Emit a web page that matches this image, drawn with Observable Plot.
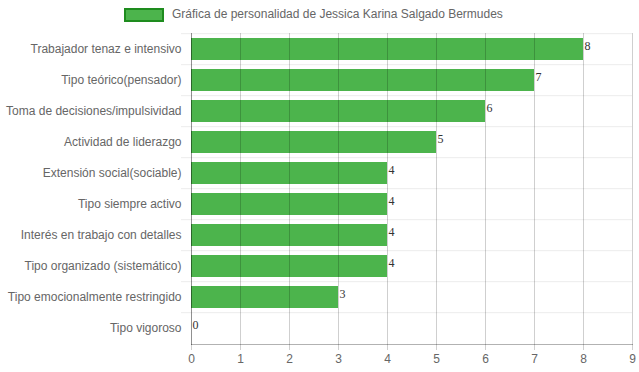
<!DOCTYPE html>
<html><head><meta charset="utf-8">
<script src="https://cdn.jsdelivr.net/npm/d3@7"></script>
<script src="https://cdn.jsdelivr.net/npm/@observablehq/plot@0.6"></script>
<style>
body{margin:0;background:#fff;font-family:"Liberation Sans",Arial,sans-serif}
#legend{height:30px;position:relative;width:639px}
#legend .box{position:absolute;left:124px;top:8px;width:36px;height:10px;background:#4cb44c;border:2px solid #1e8c1e}
#legend .lbl{position:absolute;left:172px;top:7px;font-size:12px;color:#666;line-height:14px;white-space:nowrap}
</style></head>
<body>
<div id="legend"><div class="box"></div><div class="lbl"></div></div>
<div id="chart"></div>
<script>
const seriesName = "Gráfica de personalidad de Jessica Karina Salgado Bermudes";
const categories = [
  "Trabajador tenaz e intensivo",
  "Tipo teórico(pensador)",
  "Toma de decisiones/impulsividad",
  "Actividad de liderazgo",
  "Extensión social(sociable)",
  "Tipo siempre activo",
  "Interés en trabajo con detalles",
  "Tipo organizado (sistemático)",
  "Tipo emocionalmente restringido",
  "Tipo vigoroso"
];
const values = [8, 7, 6, 5, 4, 4, 4, 4, 3, 0];
const xTicks = [0, 1, 2, 3, 4, 5, 6, 7, 8, 9];

document.querySelector("#legend .lbl").textContent = seriesName;

const data = categories.map((c, i) => ({cat: c, value: values[i]}));
const PI = 0.28, PO = 0.14;

function hGrid(index, scales, vals, dims) {
  const y = scales.y;
  const step = y.step();
  const bw = y.bandwidth();
  const g = d3.create("svg:g");
  const ys = categories.map(c => y(c) - step * PI / 2);
  for (const yy of ys) {
    g.append("line")
      .attr("x1", dims.marginLeft - 10).attr("x2", dims.width - dims.marginRight)
      .attr("y1", yy).attr("y2", yy)
      .attr("stroke", "rgba(0,0,0,0.08)");
  }
  return g.node();
}

const chart = Plot.plot({
  width: 639,
  height: 342,
  marginTop: 3,
  marginBottom: 28,
  marginLeft: 191,
  marginRight: 7,
  style: {fontFamily: '"Liberation Sans", Arial, sans-serif', fontSize: "12px", background: "#fff"},
  x: {domain: [0, 9], ticks: xTicks, label: null},
  y: {domain: categories, paddingInner: PI, paddingOuter: PO, label: null},
  marks: [
    Plot.barX(data, {x: "value", y: "cat", fill: "#4cb44c"}),
    Plot.gridX(xTicks, {stroke: "#000", strokeOpacity: 0.19}),
    hGrid,
    Plot.axisX({ticks: xTicks, tickSize: 6, tickPadding: 4, stroke: "#000", strokeOpacity: 0.19, color: "#666", fontSize: 12}),
    Plot.axisY({tickSize: 0, tickPadding: 10, color: "#666", fontSize: 12}),
    Plot.frame({anchor: "bottom", stroke: "#000", strokeOpacity: 0.3}),
    Plot.frame({anchor: "left", stroke: "#000", strokeOpacity: 0.3}),
    Plot.text(data, {x: "value", y: "cat", text: d => String(d.value), textAnchor: "start", dx: 1, dy: -3, fontFamily: '"Liberation Serif", serif', fontSize: 12, fill: "#333"})
  ]
});
document.getElementById("chart").appendChild(chart);
</script>
</body></html>
